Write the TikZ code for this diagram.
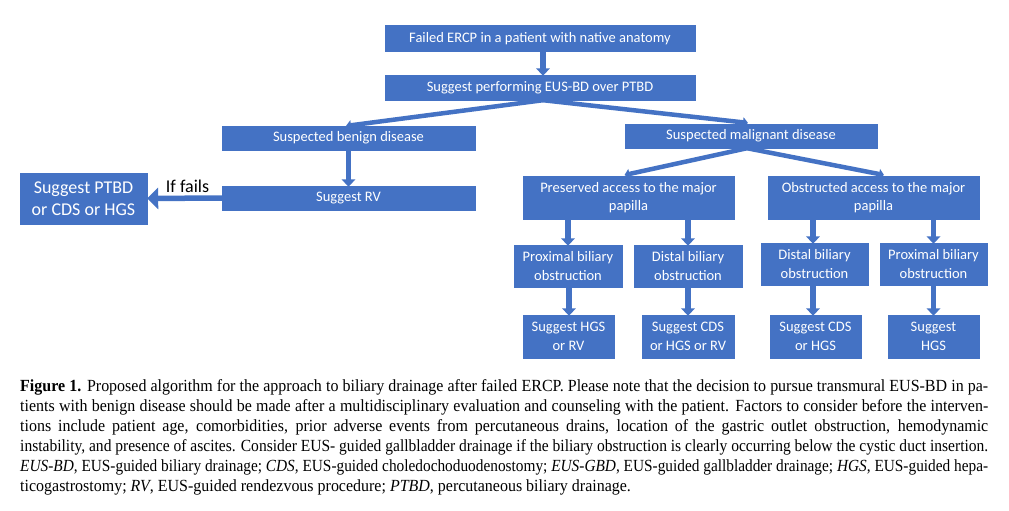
\documentclass[tikz,border=0pt]{standalone}
\usepackage{fontspec}
\usepackage{graphicx}
\setmainfont{Carlito}
\newfontfamily\capfont[FakeStretch=0.94]{Liberation Serif}
\usetikzlibrary{arrows.meta}
\definecolor{boxblue}{HTML}{4472C4}
\newsavebox\capbox
\newcommand\fitline[1]{\sbox\capbox{#1}\ifdim\wd\capbox>968pt \resizebox{968pt}{\height}{\usebox\capbox}\else\makebox[968pt][s]{#1}\fi}
\tikzset{
  x=1pt, y=-1pt,
  bx/.style={draw=boxblue, fill=boxblue, text=white, inner sep=1pt, align=center,
    font=\fontsize{14.5}{18.5}\selectfont},
  arr/.style={draw=boxblue, line width=5.5pt, -{Triangle[width=13.5pt,length=7.5pt]}, shorten >=-1pt},
  diagarr/.style={draw=boxblue, line width=4.5pt, -{Triangle[width=10pt,length=5pt]}, shorten >=-1pt},
  bigarr/.style={draw=boxblue, line width=5.5pt, -{Triangle[width=21pt,length=11pt]}},
  capline/.style={anchor=base west, inner sep=0pt, font=\capfont\fontsize{17}{20}\selectfont}
}
\begin{document}
\begin{tikzpicture}
\useasboundingbox[fill=white] (0,0) rectangle (1009,511);
% boxes
\node[bx, minimum width=310pt, minimum height=26pt] (failed) at (540,38.5) {Failed ERCP in a patient with native anatomy};
\node[bx, minimum width=310pt, minimum height=25pt] (sugg) at (540,87.5) {Suggest performing EUS-BD over PTBD};
\node[bx, minimum width=253pt, minimum height=24pt] (benign) at (348.5,138) {Suspected benign disease};
\node[bx, minimum width=253pt, minimum height=24pt] (rv) at (348.5,198) {Suggest RV};
\node[bx, minimum width=127pt, minimum height=51pt, font=\fontsize{18}{22}\selectfont] (ptbd) at (83.5,198.5) {Suggest PTBD\\or CDS or HGS};
\node[bx, minimum width=252pt, minimum height=24pt] (malig) at (751,136) {Suspected malignant disease};
\node[bx, minimum width=211pt, minimum height=43pt] (pres) at (628.5,197.5) {Preserved access to the major\\papilla};
\node[bx, minimum width=211pt, minimum height=43pt] (obst) at (873.5,197.5) {Obstructed access to the major\\papilla};
\node[bx, minimum width=108pt, minimum height=42pt] (prox1) at (568,266) {Proximal biliary\\obstruction};
\node[bx, minimum width=108pt, minimum height=42pt] (dist1) at (688,266) {Distal biliary\\obstruction};
\node[bx, minimum width=107pt, minimum height=42pt] (dist2) at (814.5,264) {Distal biliary\\obstruction};
\node[bx, minimum width=107pt, minimum height=42pt] (prox2) at (933.5,264) {Proximal biliary\\obstruction};
\node[bx, minimum width=91pt, minimum height=43pt] (s1) at (568.5,336.5) {Suggest HGS\\or RV};
\node[bx, minimum width=92pt, minimum height=43pt] (s2) at (688,336.5) {Suggest CDS\\or HGS or RV};
\node[bx, minimum width=91pt, minimum height=43pt] (s3) at (815.5,336.5) {Suggest CDS\\or HGS};
\node[bx, minimum width=91pt, minimum height=43pt] (s4) at (933.5,336.5) {Suggest\\HGS};
% arrows
\draw[arr] ([xshift=3pt]failed.south) -- ([xshift=3pt]sugg.north);
\draw[diagarr] ([xshift=3pt]sugg.south) -- ([xshift=-1.5pt]benign.north);
\draw[diagarr] ([xshift=3pt]sugg.south) -- ([xshift=-4pt,yshift=1pt]malig.north);
\draw[arr] (benign.south) -- (rv.north);
\draw[bigarr] (rv.west) -- (ptbd.east);
\node[anchor=base, inner sep=0pt, font=\fontsize{18}{22}\selectfont] (iff) at (187.5,192) {If fails};
\draw[diagarr] ([xshift=-4pt]malig.south) -- ([xshift=-3pt,yshift=1pt]pres.north);
\draw[diagarr] ([xshift=-4pt]malig.south) -- ([xshift=9.5pt,yshift=1pt]obst.north);
\draw[arr] (prox1.north |- pres.south) -- (prox1.north);
\draw[arr] (dist1.north |- pres.south) -- (dist1.north);
\draw[arr] ([xshift=-1.5pt]dist2.north |- obst.south) -- ([xshift=-1.5pt]dist2.north);
\draw[arr] (prox2.north |- obst.south) -- (prox2.north);
\draw[arr] ([xshift=1pt]prox1.south) -- ([xshift=1pt]prox1.south |- s1.north);
\draw[arr] (dist1.south) -- (dist1.south |- s2.north);
\draw[arr] ([xshift=-1.5pt]dist2.south) -- ([xshift=-1.5pt]dist2.south |- s3.north);
\draw[arr] (prox2.south) -- (prox2.south |- s4.north);
% caption
\node[capline] (cap1) at (20,391) {\fitline{\textbf{Figure 1.} Proposed algorithm for the approach to biliary drainage after failed ERCP. Please note that the decision to pursue transmural EUS-BD in pa-}};
\node[capline] (cap2) at (20,411) {\fitline{tients with benign disease should be made after a multidisciplinary evaluation and counseling with the patient. Factors to consider before the interven-}};
\node[capline] (cap3) at (20,431) {\fitline{tions include patient age, comorbidities, prior adverse events from percutaneous drains, location of the gastric outlet obstruction, hemodynamic}};
\node[capline] (cap4) at (20,451) {\fitline{instability, and presence of ascites. Consider EUS- guided gallbladder drainage if the biliary obstruction is clearly occurring below the cystic duct insertion.}};
\node[capline] (cap5) at (20,471) {\fitline{\textit{EUS-BD}, EUS-guided biliary drainage; \textit{CDS}, EUS-guided choledochoduodenostomy; \textit{EUS-GBD}, EUS-guided gallbladder drainage; \textit{HGS}, EUS-guided hepa-}};
\node[capline] (cap6) at (20,491) {ticogastrostomy; \textit{RV}, EUS-guided rendezvous procedure; \textit{PTBD}, percutaneous biliary drainage.};
\end{tikzpicture}
\end{document}
